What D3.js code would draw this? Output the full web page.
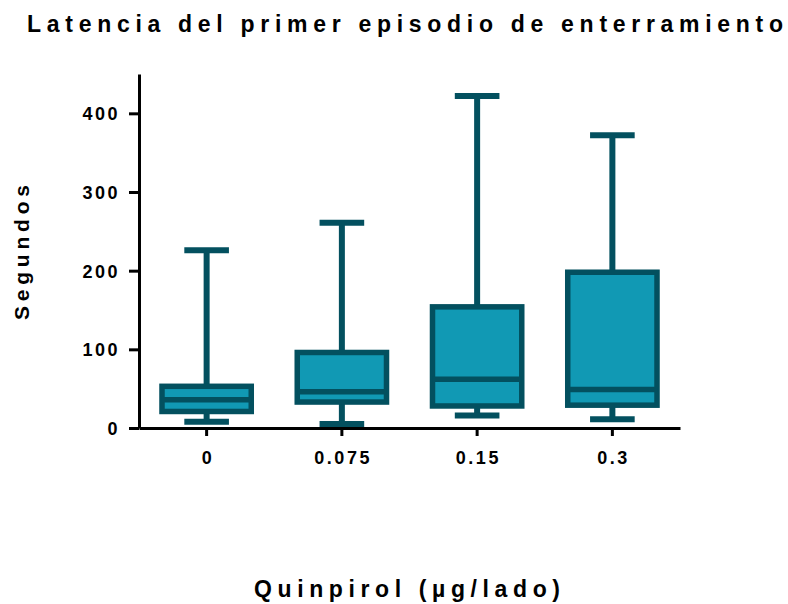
<!DOCTYPE html>
<html>
<head>
<meta charset="utf-8">
<script src="https://cdn.jsdelivr.net/npm/d3@7"></script>
<style>
  html, body { margin: 0; padding: 0; background: #fff; }
  svg { display: block; font-family: "Liberation Sans", Arial, sans-serif; font-weight: bold; }
</style>
</head>
<body>
<svg id="chart" width="788" height="604"></svg>
<script>
// Doses of quinpirole (µg per side)
const categories = ["0", "0.075", "0.15", "0.3"];
// Box-and-whisker summaries (seconds)
const minValues    = [8, 5, 16, 11];
const q1Values     = [21, 33, 28, 29];
const medianValues = [36, 46, 62, 49];
const q3Values     = [53, 96, 154, 198];
const maxValues    = [226, 261, 422, 372];
const yTicks = [0, 100, 200, 300, 400];

const fillColor = "#1199b4";
const lineColor = "#03505f";

const svg = d3.select("#chart");
const margin = { left: 139, right: 108, top: 74, bottom: 176 };
const width = 788, height = 604;

const x = d3.scaleBand()
  .domain(categories)
  .range([margin.left, width - margin.right])
  .padding(0);

const y = d3.scaleLinear()
  .domain([0, 450])
  .range([height - margin.bottom, margin.top]);

const data = categories.map((c, i) => ({
  cat: c, min: minValues[i], q1: q1Values[i], med: medianValues[i], q3: q3Values[i], max: maxValues[i]
}));

const boxW = 0.66 * x.bandwidth();
const capW = 0.33 * x.bandwidth();

const g = svg.append("g");
const grp = g.selectAll("g.box").data(data).join("g")
  .attr("transform", d => `translate(${x(d.cat) + x.bandwidth() / 2},0)`);

// whisker stems
grp.append("line")
  .attr("x1", 0).attr("x2", 0)
  .attr("y1", d => y(d.max)).attr("y2", d => y(d.min))
  .attr("stroke", lineColor).attr("stroke-width", 6);
// caps
["max", "min"].forEach(k => {
  grp.append("line")
    .attr("x1", -capW / 2).attr("x2", capW / 2)
    .attr("y1", d => y(d[k])).attr("y2", d => y(d[k]))
    .attr("stroke", lineColor).attr("stroke-width", 6);
});
// boxes
grp.append("rect")
  .attr("x", -boxW / 2)
  .attr("width", boxW)
  .attr("y", d => y(d.q3))
  .attr("height", d => y(d.q1) - y(d.q3))
  .attr("fill", fillColor)
  .attr("stroke", lineColor)
  .attr("stroke-width", 5.5);
// medians
grp.append("line")
  .attr("x1", -boxW / 2).attr("x2", boxW / 2)
  .attr("y1", d => y(d.med)).attr("y2", d => y(d.med))
  .attr("stroke", lineColor).attr("stroke-width", 5.5);

// y axis
const yAxis = svg.append("g")
  .attr("transform", `translate(${margin.left},0)`)
  .call(d3.axisLeft(y).tickValues(yTicks).tickSize(10).tickPadding(9).tickSizeOuter(0));
yAxis.select(".domain").attr("stroke", "#000").attr("stroke-width", 3);
yAxis.selectAll(".tick line").attr("stroke", "#000").attr("stroke-width", 3);
yAxis.selectAll(".tick text")
  .attr("fill", "#000")
  .style("font-family", '"Liberation Sans", Arial, sans-serif')
  .style("font-weight", "bold")
  .style("font-size", "18px")
  .style("letter-spacing", "2.5px")
  .attr("dy", "0.36em");

// x axis
const xAxis = svg.append("g")
  .attr("transform", `translate(0,${height - margin.bottom})`)
  .call(d3.axisBottom(x).tickSize(8).tickPadding(15).tickSizeOuter(0));
xAxis.select(".domain").attr("stroke", "#000").attr("stroke-width", 3);
xAxis.selectAll(".tick line").attr("stroke", "#000").attr("stroke-width", 3);
xAxis.selectAll(".tick text")
  .attr("fill", "#000")
  .style("font-family", '"Liberation Sans", Arial, sans-serif')
  .style("font-weight", "bold")
  .style("font-size", "18px")
  .style("letter-spacing", "2.5px")
  .attr("dx", "1.25px");

// title
svg.append("text")
  .attr("x", 27).attr("y", 32)
  .attr("textLength", 756).attr("lengthAdjust", "spacing")
  .style("font-size", "23px")
  .text("Latencia del primer episodio de enterramiento");

// y label
svg.append("text")
  .attr("transform", "translate(29,320) rotate(-90)")
  .attr("textLength", 135).attr("lengthAdjust", "spacing")
  .style("font-size", "21px")
  .text("Segundos");

// x label
svg.append("text")
  .attr("x", 254).attr("y", 597)
  .attr("textLength", 306).attr("lengthAdjust", "spacing")
  .style("font-size", "23px")
  .text("Quinpirol (µg/lado)");
</script>
</body>
</html>
